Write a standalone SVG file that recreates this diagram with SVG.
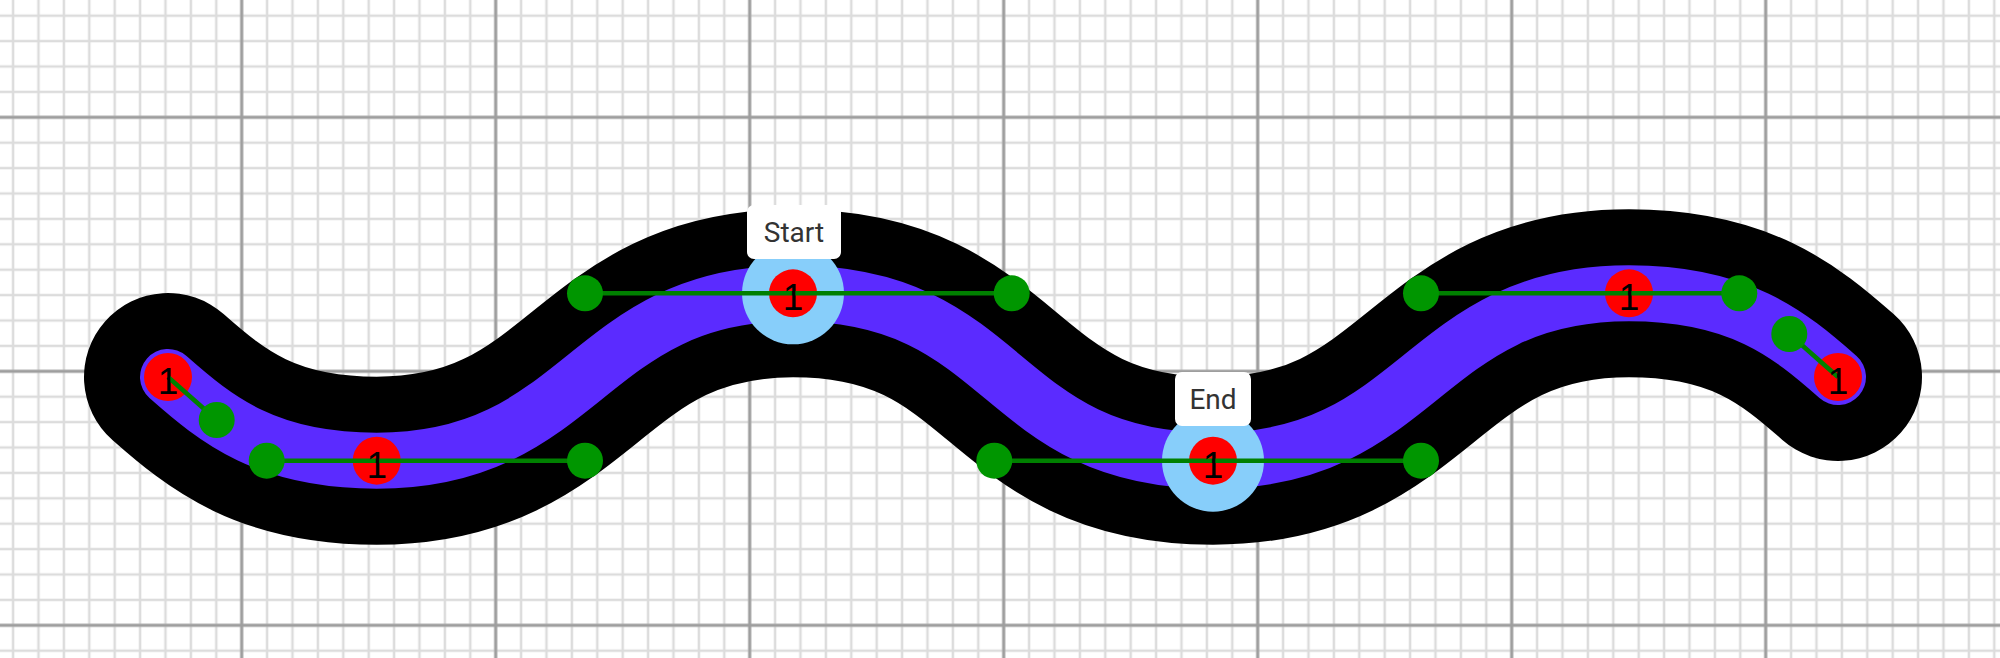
<svg xmlns="http://www.w3.org/2000/svg" width="2000" height="658" viewBox="0 0 2000 658">
  <style>
    .minor { stroke: #dcdcdc; stroke-width: 2.5; fill: none; }
    .major { stroke: #9e9e9e; stroke-width: 3; fill: none; }
    .outline { fill: none; stroke: #000; stroke-width: 168; stroke-linecap: round; }
    .core { fill: none; stroke: #5b2bff; stroke-width: 56; stroke-linecap: round; }
    .handle { stroke: #008000; stroke-width: 4.5; fill: none; }
    .hdot { fill: #009600; }
    .anchor { fill: #ff0000; }
    .sel { fill: #87cefa; }
    .num { font-family: "Liberation Sans", Arial, sans-serif; font-size: 37px; fill: #000; text-anchor: middle; }
    .lblbox { fill: #fff; }
    .lbl { font-family: Roboto, "Liberation Sans", sans-serif; font-size: 28px; fill: #333; text-anchor: middle; }
  </style>
  <defs>
    <pattern id="gMinor" x="0.4" y="3" width="25.4" height="25.4" patternUnits="userSpaceOnUse">
      <path class="minor" d="M12.7 0V25.4M0 12.7H25.4"/>
    </pattern>
    <pattern id="gMajor" x="114.7" y="-9.7" width="254" height="254" patternUnits="userSpaceOnUse">
      <path class="major" d="M127 0V254M0 127H254"/>
    </pattern>
  </defs>
  <g id="grid">
    <rect width="2000" height="658" fill="#fff"/>
    <rect width="2000" height="658" fill="url(#gMinor)"/>
    <rect width="2000" height="658" fill="url(#gMajor)"/>
  </g>
  <g id="connectors">
    <path id="curve-outline" class="outline" d="M168,377 C216.7,420 266.7,460.7 376.7,460.7 C585,460.7 585,293.3 793,293.3 C1011.7,293.3 994.3,460.7 1213,460.7 C1421,460.7 1421,293.3 1629,293.3 C1739.3,293.3 1789.3,334 1838,377"/>
    <path id="curve-core" class="core" d="M168,377 C216.7,420 266.7,460.7 376.7,460.7 C585,460.7 585,293.3 793,293.3 C1011.7,293.3 994.3,460.7 1213,460.7 C1421,460.7 1421,293.3 1629,293.3 C1739.3,293.3 1789.3,334 1838,377"/>
  </g>
  <g id="selection">
    <circle class="sel" cx="793" cy="293.3" r="51"/>
    <circle class="sel" cx="1213" cy="460.7" r="51"/>
  </g>
  <g id="p0"><circle class="anchor" cx="168" cy="377" r="24"/></g>
  <g id="p1"><circle class="anchor" cx="376.7" cy="460.7" r="24"/></g>
  <g id="p2"><circle class="anchor" cx="793" cy="293.3" r="24"/></g>
  <g id="p3"><circle class="anchor" cx="1213" cy="460.7" r="24"/></g>
  <g id="p4"><circle class="anchor" cx="1629" cy="293.3" r="24"/></g>
  <g id="p5"><circle class="anchor" cx="1838" cy="377" r="24"/></g>
  <g id="handles">
    <path class="handle" d="M168 377L216.7 420M266.7 460.7H585M585 293.3H1011.7M994.3 460.7H1421M1421 293.3H1739.3M1838 377L1789.3 334"/>
    <circle class="hdot" cx="216.7" cy="420" r="18"/>
    <circle class="hdot" cx="266.7" cy="460.7" r="18"/>
    <circle class="hdot" cx="585" cy="460.7" r="18"/>
    <circle class="hdot" cx="585" cy="293.3" r="18"/>
    <circle class="hdot" cx="1011.7" cy="293.3" r="18"/>
    <circle class="hdot" cx="994.3" cy="460.7" r="18"/>
    <circle class="hdot" cx="1421" cy="460.7" r="18"/>
    <circle class="hdot" cx="1421" cy="293.3" r="18"/>
    <circle class="hdot" cx="1739.3" cy="293.3" r="18"/>
    <circle class="hdot" cx="1789.3" cy="334" r="18"/>
  </g>
  <g id="numbers">
    <text class="num" x="168" y="394">1</text>
    <text class="num" x="376.7" y="477.7">1</text>
    <text class="num" x="793" y="310.3">1</text>
    <text class="num" x="1213" y="477.7">1</text>
    <text class="num" x="1629" y="310.3">1</text>
    <text class="num" x="1838" y="394">1</text>
  </g>
  <g id="label-start">
    <rect class="lblbox" x="747" y="205" width="94" height="54" rx="7"/>
    <text class="lbl" x="794" y="242">Start</text>
  </g>
  <g id="label-end">
    <rect class="lblbox" x="1175" y="372" width="76" height="54" rx="7"/>
    <text class="lbl" x="1213" y="409">End</text>
  </g>
</svg>
